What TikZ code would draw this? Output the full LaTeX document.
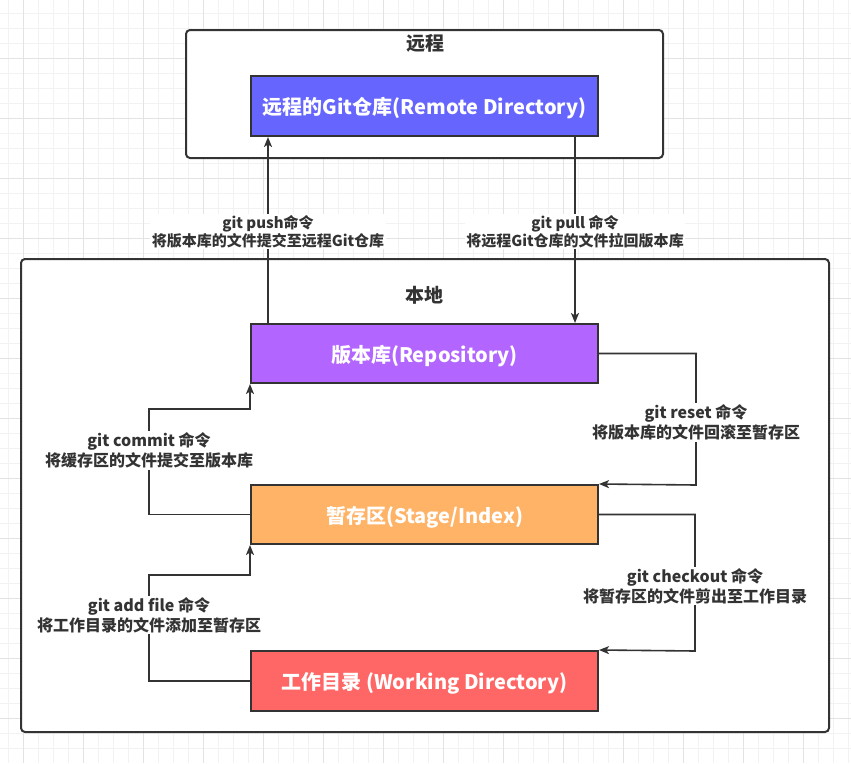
\documentclass[tikz,border=0pt]{standalone}
\usepackage{fontspec}
\setmainfont{Noto Sans CJK SC}
\usetikzlibrary{arrows.meta}
\definecolor{ink}{HTML}{333333}
\definecolor{gridminor}{HTML}{F2F2F2}
\definecolor{gridmajor}{HTML}{E3E3E3}
\definecolor{remotefill}{HTML}{6666FF}
\definecolor{repofill}{HTML}{B266FF}
\definecolor{stagefill}{HTML}{FFB366}
\definecolor{workfill}{HTML}{FF6666}
\tikzset{
  container/.style={draw=ink, line width=2pt, rounded corners=4pt, fill=white},
  areabox/.style={draw=ink, line width=2pt, minimum width=347pt, minimum height=59pt,
    text=white, font=\bfseries\fontsize{20}{24}\selectfont, inner sep=0pt,
    text height=20.4pt, text depth=3pt},
  areatitle/.style={text=ink, font=\bfseries\fontsize{19}{22}\selectfont, inner sep=0pt},
  conn/.style={draw=ink, line width=1.6pt, -{Stealth[length=10pt,width=8pt,inset=2.5pt]}},
  cmdlabel/.style={fill=white, text=ink, align=center, inner sep=1.5pt,
    font=\bfseries\fontsize{15}{18}\selectfont},
  sidelabel/.style={cmdlabel, font=\bfseries\fontsize{16}{20}\selectfont},
}
\begin{document}
\begin{tikzpicture}[x=1pt,y=-1pt]
\useasboundingbox (0,0) rectangle (851,763);
\fill[white] (0,0) rectangle (851,763);
% grid
\foreach \gx in {8.3,23.3,...,851} {\draw[gridminor, line width=1pt] (\gx,0) -- (\gx,763);}
\foreach \gy in {13.3,28.3,...,763} {\draw[gridminor, line width=1pt] (0,\gy) -- (851,\gy);}
\foreach \gx in {23.3,83.3,...,851} {\draw[gridmajor, line width=1pt] (\gx,0) -- (\gx,763);}
\foreach \gy in {58.3,118.3,...,763} {\draw[gridmajor, line width=1pt] (0,\gy) -- (851,\gy);}

% containers
\node[container, minimum width=477pt, minimum height=128pt, inner sep=0pt] (remotearea) at (424.5,94) {};
\node[container, minimum width=808pt, minimum height=473pt, inner sep=0pt] (localarea) at (425,495.5) {};
\node[areatitle] (remotetitle) at (425,43) {远程};
\node[areatitle] (localtitle) at (424,295) {本地};

% boxes
\node[areabox, fill=remotefill, minimum height=60pt] (remote) at (424.5,106) {远程的Git仓库(Remote Directory)};
\node[areabox, fill=repofill] (repo) at (424.5,353.5) {版本库(Repository)};
\node[areabox, fill=stagefill] (stage) at (424.5,514.5) {暂存区(Stage/Index)};
\node[areabox, fill=workfill, minimum height=60pt] (work) at (424.5,681) {工作目录 (Working Directory)};

% waypoints
\coordinate (pushx) at (268,0);
\coordinate (pullx) at (575,0);
\coordinate (commitc) at (149,409);
\coordinate (resetc) at (696,485);
\coordinate (checkc) at (695,651);
\coordinate (addc) at (149,575);

% push / pull
\draw[conn] (repo.north -| pushx) -- node[cmdlabel, pos=0.492] (pushlabel) {git push命令\\将版本库的文件提交至远程Git仓库} (remote.south -| pushx);
\draw[conn] (remote.south -| pullx) -- node[cmdlabel, pos=0.508] (pulllabel) {git pull 命令\\将远程Git仓库的文件拉回版本库} (repo.north -| pullx);

% commit
\draw[conn] (stage.west) -| (commitc) -- (commitc -| repo.south west) -- (repo.south west);
\node[sidelabel] (commitlabel) at (149,450.5) {git commit 命令\\将缓存区的文件提交至版本库};

% reset
\draw[conn] (repo.east) -| (resetc) -- (stage.north east);
\node[sidelabel] (resetlabel) at (696,422.5) {git reset 命令\\将版本库的文件回滚至暂存区};

% checkout
\draw[conn] (stage.east) -| (checkc) -- (work.north east);
\node[sidelabel] (checklabel) at (695,586) {git checkout 命令\\将暂存区的文件剪出至工作目录};

% add
\draw[conn] (work.west) -| (addc) -- (addc -| stage.south west) -- (stage.south west);
\node[sidelabel] (addlabel) at (149,615) {git add file 命令\\将工作目录的文件添加至暂存区};
\end{tikzpicture}
\end{document}
